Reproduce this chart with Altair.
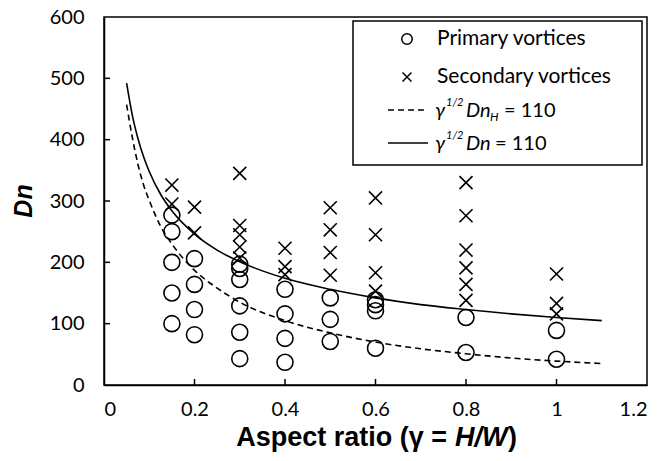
import altair as alt
import pandas as pd

# ---- data ----
prim_x = [0.15]*5 + [0.2]*4 + [0.3]*6 + [0.4]*4 + [0.5]*3 + [0.6]*4 + [0.8]*2 + [1.0]*2
prim_y = [277, 250, 200, 150, 100,
          206, 164, 123, 82,
          197, 190, 172, 129, 86, 43,
          156, 116, 76, 37,
          142, 107, 71,
          139, 131, 121, 60,
          110, 53,
          89, 42]

sec_x = [0.15]*2 + [0.2]*2 + [0.3]*5 + [0.4]*3 + [0.5]*4 + [0.6]*4 + [0.8]*6 + [1.0]*3
sec_y = [326, 295,
         290, 248,
         345, 260, 245, 225, 207,
         223, 193, 180,
         289, 253, 216, 179,
         305, 245, 183, 153,
         330, 276, 220, 191, 164, 138,
         181, 133, 116]

curve_x = [0.05, 0.0625, 0.075, 0.0875, 0.1, 0.125, 0.15, 0.2, 0.25, 0.3, 0.4, 0.5, 0.6, 0.7, 0.8, 0.9, 1.0, 1.1]
solid_y = [492, 440, 402, 372, 348, 311, 284, 246, 220, 201, 174, 156, 142, 131, 123, 116, 110, 105]
dashed_y = [457, 404, 360, 326, 301, 259, 230, 187, 158, 135, 105, 85, 70, 59, 51, 44, 39, 35]

x_ticks = [0.2, 0.4, 0.6, 0.8, 1.0]
y_ticks = [100, 200, 300, 400, 500]
x_labels = [0, 0.2, 0.4, 0.6, 0.8, 1.0, 1.2]
y_labels = [0, 100, 200, 300, 400, 500, 600]

prim = pd.DataFrame({"x": prim_x, "y": prim_y})
sec = pd.DataFrame({"x": sec_x, "y": sec_y})
solid = pd.DataFrame({"x": curve_x, "y": solid_y})
dashed = pd.DataFrame({"x": curve_x, "y": dashed_y})
xt = pd.DataFrame({"x": x_ticks})
yt = pd.DataFrame({"y": y_ticks})

LABEL_FONT = "Lato"
TITLE_FONT = "Liberation Sans"

xenc = alt.X("x:Q", scale=alt.Scale(domain=[0, 1.2], nice=False),
             axis=alt.Axis(values=x_labels, title=None, labelPadding=14, format="~g"))
yenc = alt.Y("y:Q", scale=alt.Scale(domain=[0, 600], nice=False),
             axis=alt.Axis(values=y_labels, title=None, labelPadding=20))

CROSS = "M-1,-1L1,1M-1,1L1,-1"

primary = alt.Chart(prim).mark_point(shape="circle", filled=False, color="black", opacity=1,
                                     size=256, strokeWidth=1.6).encode(x=xenc, y=yenc)
secondary = alt.Chart(sec).mark_point(shape=CROSS, filled=False, color="black", opacity=1,
                                      size=170, strokeWidth=1.6).encode(x=xenc, y=yenc)
solid_line = alt.Chart(solid).mark_line(color="black", strokeWidth=1.6,
                                        interpolate="monotone").encode(x=xenc, y=yenc)
dashed_line = alt.Chart(dashed).mark_line(color="black", strokeWidth=1.6, strokeDash=[6, 4],
                                          interpolate="monotone").encode(x=xenc, y=yenc)

xtick = alt.Chart(xt).mark_rule(color="black", strokeWidth=1.5).encode(
    x=xenc, y=alt.value(368), y2=alt.value(362))
ytick = alt.Chart(yt).mark_rule(color="black", strokeWidth=1.5).encode(
    y=yenc, x=alt.value(0), x2=alt.value(6))

one = pd.DataFrame({"k": [0]})

# legend (plot-area pixel offsets)
box = alt.Chart(one).mark_rect(fill="white", stroke="black", strokeWidth=1.5).encode(
    x=alt.value(249), x2=alt.value(538), y=alt.value(4), y2=alt.value(148))
leg_c = alt.Chart(one).mark_point(shape="circle", filled=False, color="black", opacity=1,
                                  size=110, strokeWidth=1.5).encode(x=alt.value(303), y=alt.value(22))
leg_x = alt.Chart(one).mark_point(shape=CROSS, filled=False, color="black", opacity=1,
                                  size=80, strokeWidth=1.5).encode(x=alt.value(303), y=alt.value(60))
leg_d = alt.Chart(one).mark_rule(color="black", strokeWidth=1.5, strokeDash=[6, 4]).encode(
    x=alt.value(284), x2=alt.value(324), y=alt.value(93))
leg_s = alt.Chart(one).mark_rule(color="black", strokeWidth=1.5).encode(
    x=alt.value(284), x2=alt.value(324), y=alt.value(126))


def txt(s, x, y, size=21, style="normal", weight="normal", align="left", font=LABEL_FONT, angle=0):
    return alt.Chart(one).mark_text(text=s, align=align, baseline="middle", font=font,
                                    fontSize=size, fontStyle=style, fontWeight=weight,
                                    color="black", angle=angle).encode(
        x=alt.value(x), y=alt.value(y))


legend_texts = [
    txt("Primary vortices", 333, 22),
    txt("Secondary vortices", 333, 60),
    txt("γ", 331, 94, size=20, style="italic"),
    txt("1/2", 342, 86, size=11, style="italic"),
    txt("Dn", 362, 94, size=20, style="italic"),
    txt("H", 386, 100, size=12, style="italic"),
    txt("= 110", 400, 94, size=20),
    txt("γ", 331, 127, size=20, style="italic"),
    txt("1/2", 342, 119, size=11, style="italic"),
    txt("Dn", 362, 127, size=20, style="italic"),
    txt("= 110", 391, 127, size=20),
]

titles = [
    txt("Aspect ratio (γ =", 343, 421, size=27, weight="bold", align="right", font=TITLE_FONT),
    txt("H/W", 351, 421, size=27, weight="bold", style="italic", font=TITLE_FONT),
    txt(")", 404, 421, size=27, weight="bold", font=TITLE_FONT),
    txt("Dn", -80, 184, size=25, weight="bold", style="italic", align="center",
        font=TITLE_FONT, angle=270),
]

chart = alt.layer(
    dashed_line, solid_line, primary, secondary, xtick, ytick,
    box, leg_c, leg_x, leg_d, leg_s, *legend_texts, *titles
).properties(
    width=543, height=368,
    autosize=alt.AutoSizeParams(type="none"),
    padding={"left": 96, "top": 9, "right": 8, "bottom": 68},
    background="white",
).configure_view(
    stroke="black", strokeWidth=1.5
).configure_axis(
    grid=False, ticks=False, tickSize=0, domainColor="black", domainWidth=1.5,
    labelFont=LABEL_FONT, labelFontSize=20, labelColor="black",
)

chart.save("out.html", embed_options={"renderer": "svg", "actions": False})
